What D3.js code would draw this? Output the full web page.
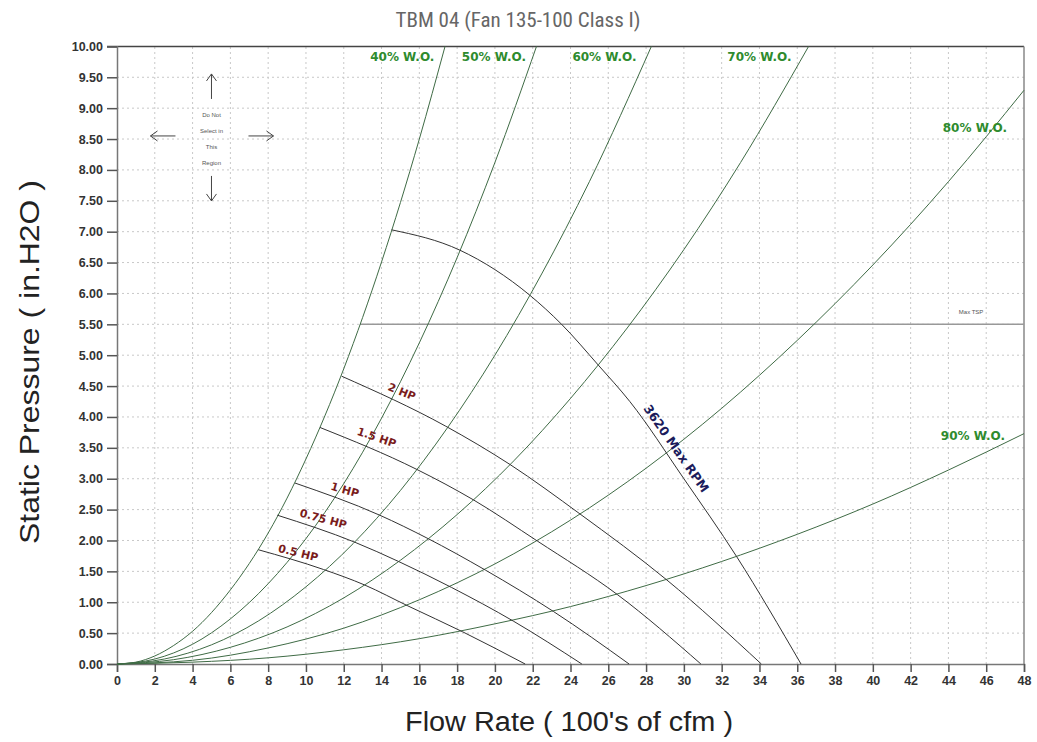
<!DOCTYPE html>
<html><head><meta charset="utf-8">
<script src="https://cdn.jsdelivr.net/npm/d3@7"></script>
<style>
html,body{margin:0;padding:0;background:#fff;}
svg{display:block;}
</style></head>
<body>
<svg id="chart" width="1037" height="742"></svg>
<script>
// ---------- data ----------
const xTicks = [0,2,4,6,8,10,12,14,16,18,20,22,24,26,28,30,32,34,36,38,40,42,44,46,48];
const yTicks = [0,0.5,1,1.5,2,2.5,3,3.5,4,4.5,5,5.5,6,6.5,7,7.5,8,8.5,9,9.5,10];

// system (W.O.) curves: [flow, pressure]
const wo40 = [[0,0],[1,0.03],[2,0.13],[3,0.30],[4,0.53],[6,1.20],[8,2.12],[10,3.32],[12,4.78],[14,6.51],[16,8.50],[17.36,10.0]];
const wo50 = [[0,0],[2,0.08],[4,0.32],[6,0.73],[8,1.30],[10,2.03],[12,2.92],[14,3.98],[16,5.20],[18,6.58],[20,8.12],[22.2,10.0]];
const wo60 = [[0,0],[2.5,0.08],[5,0.31],[7.5,0.70],[10,1.25],[12.5,1.95],[15,2.81],[17.5,3.83],[20,5.00],[22.5,6.33],[25,7.81],[28.28,10.0]];
const wo70 = [[0,0],[3,0.07],[6,0.27],[9,0.60],[12,1.07],[15,1.68],[18,2.42],[21,3.29],[24,4.30],[27,5.44],[30,6.71],[33,8.12],[36.6,10.0]];
const wo80 = [[0,0],[4,0.06],[8,0.26],[12,0.58],[16,1.04],[20,1.62],[24,2.33],[28,3.17],[32,4.14],[36,5.24],[40,6.46],[44,7.81],[48,9.29]];
const wo90 = [[0,0],[4,0.03],[8,0.10],[12,0.23],[16,0.41],[20,0.65],[24,0.93],[28,1.27],[32,1.66],[36,2.10],[40,2.59],[44,3.14],[48,3.73]];
const woNames = ["40% W.O.","50% W.O.","60% W.O.","70% W.O.","80% W.O.","90% W.O."];

// horsepower curves
const hp05  = [[7.48,1.85],[10.93,1.53],[13.1,1.28],[15.4,0.94],[18.3,0.52],[21.6,0]];
const hp075 = [[8.48,2.41],[12.6,1.97],[14.9,1.66],[17.7,1.24],[21.0,0.69],[24.6,0]];
const hp1   = [[9.42,2.93],[13.9,2.41],[16.4,2.04],[19.5,1.52],[23.1,0.85],[27.1,0]];
const hp15  = [[10.74,3.83],[15.87,3.15],[18.85,2.66],[22.25,1.99],[26.5,1.12],[30.9,0]];
const hp2   = [[11.89,4.66],[17.4,3.85],[20.8,3.23],[24.5,2.43],[29.1,1.36],[34.1,0]];
const hpNames = ["0.5 HP","0.75 HP","1 HP","1.5 HP","2 HP"];

// max rpm curve
const rpmMax = [[14.53,7.03],[18.15,6.70],[21.85,5.97],[23.53,5.50],[25.47,4.84],[27.14,4.25],[30.0,3.0],[32.79,1.74],[36.2,0]];
const rpmName = "3620 Max RPM";

// max total static pressure line
const maxTSP = [[12.86,5.5],[48,5.5]];
const tspName = "Max TSP";

const title = "TBM 04 (Fan 135-100 Class I)";
const xTitle = "Flow Rate ( 100's of cfm )";
const yTitle = "Static Pressure ( in.H2O )";
const noSelect = ["Do Not","Select in","This","Region"];

// ---------- chart ----------
const svg = d3.select("#chart");
const x = d3.scaleLinear().domain([0,48]).range([117,1024]);
const y = d3.scaleLinear().domain([0,10]).range([664,46.4]);

// title
svg.append("text").attr("x",518).attr("y",27).attr("text-anchor","middle")
  .style("font-family","'Liberation Sans Narrow','Roboto Condensed','Arial Narrow',Roboto,sans-serif")
  .style("font-size","21px").style("fill","#666").text(title);

// grid
const grid = svg.append("g");
grid.selectAll("line.vx").data(xTicks.slice(1,-1)).enter().append("line")
  .attr("x1",d=>x(d)).attr("x2",d=>x(d)).attr("y1",y(0)).attr("y2",y(10))
  .attr("stroke","#c8c8c8").attr("stroke-width",1).attr("stroke-dasharray","2,3");
grid.selectAll("line.hy").data(yTicks.slice(1,-1)).enter().append("line")
  .attr("y1",d=>y(d)).attr("y2",d=>y(d)).attr("x1",x(0)).attr("x2",x(48))
  .attr("stroke","#c8c8c8").attr("stroke-width",1).attr("stroke-dasharray","2,3");

// frame
svg.append("line").attr("x1",x(0)-10).attr("x2",x(48)).attr("y1",y(10)).attr("y2",y(10)).attr("stroke","#444").attr("stroke-width",1.5);
svg.append("line").attr("x1",x(48)).attr("x2",x(48)).attr("y1",y(0)).attr("y2",y(10)).attr("stroke","#888").attr("stroke-width",1.5);

// axes
const xAxis = d3.axisBottom(x).tickValues(xTicks).tickSize(8).tickPadding(4).tickFormat(d3.format("d"));
const gx = svg.append("g").attr("transform",`translate(0,${y(0)})`).call(xAxis);
const yAxis = d3.axisLeft(y).tickValues(yTicks).tickSize(10).tickPadding(4).tickFormat(d3.format(".2f"));
const gy = svg.append("g").attr("transform",`translate(${x(0)},0)`).call(yAxis);
[gx,gy].forEach(g=>{
  g.select(".domain").attr("stroke","#777").attr("stroke-width",1.5);
  g.selectAll(".tick line").attr("stroke","#555").attr("stroke-width",1.5);
  g.selectAll(".tick text").style("font-family","Arial,'Liberation Sans',sans-serif")
    .style("font-size","12.5px").style("font-weight","bold").style("fill","#333");
});

// axis titles
svg.append("text").attr("x",569).attr("y",731).attr("text-anchor","middle")
  .attr("textLength",328).attr("lengthAdjust","spacingAndGlyphs")
  .style("font-family","Arial,'Liberation Sans',sans-serif").style("font-size","27px").style("fill","#222").text(xTitle);
svg.append("text").attr("transform","translate(39,362) rotate(-90)").attr("text-anchor","middle")
  .attr("textLength",364).attr("lengthAdjust","spacingAndGlyphs")
  .style("font-family","Arial,'Liberation Sans',sans-serif").style("font-size","28px").style("fill","#222").text(yTitle);

const line = d3.line().x(d=>x(d[0])).y(d=>y(d[1])).curve(d3.curveMonotoneX);

// max TSP
svg.append("path").attr("d",line(maxTSP)).attr("fill","none").attr("stroke","#999").attr("stroke-width",1.6);
svg.append("text").attr("x",x(45.2)).attr("y",y(5.66)).attr("text-anchor","middle")
  .style("font-family","Arial,sans-serif").style("font-size","6px").style("fill","#555").text(tspName);

// W.O. curves
const woData = [wo40,wo50,wo60,wo70,wo80,wo90];
svg.selectAll("path.wo").data(woData).enter().append("path")
  .attr("d",d=>line(d)).attr("fill","none").attr("stroke","#3f6b45").attr("stroke-width",1);

// HP curves
const hpData = [hp05,hp075,hp1,hp15,hp2];
svg.selectAll("path.hp").data(hpData).enter().append("path")
  .attr("d",d=>line(d)).attr("fill","none").attr("stroke","#333").attr("stroke-width",1);
svg.append("path").attr("d",line(rpmMax)).attr("fill","none").attr("stroke","#333").attr("stroke-width",1);

// W.O. labels
const woLabelPos = [[15.1,9.76],[19.95,9.76],[25.8,9.76],[34.0,9.76],[45.4,8.61],[45.3,3.63]];
svg.selectAll("text.wo").data(woNames).enter().append("text")
  .attr("x",(d,i)=>x(woLabelPos[i][0])).attr("y",(d,i)=>y(woLabelPos[i][1]))
  .attr("text-anchor","middle")
  .style("font-family","Verdana,'DejaVu Sans',sans-serif").style("font-size","12px").style("font-weight","bold")
  .style("fill","#2e8b2e").text(d=>d);

// HP labels (centres)
const hpLabelPos = [[9.59,1.80],[10.92,2.35],[12.06,2.82],[13.74,3.67],[15.07,4.41]];
const hpAngles = [14,15,16,19,22];
svg.selectAll("text.hp").data(hpNames).enter().append("text")
  .attr("transform",(d,i)=>`translate(${x(hpLabelPos[i][0])},${y(hpLabelPos[i][1])}) rotate(${hpAngles[i]})`)
  .attr("text-anchor","middle").attr("dy","0.35em")
  .style("font-family","Verdana,'DejaVu Sans',sans-serif").style("font-size","11px").style("font-weight","bold")
  .style("fill","#7a1c1c").text(d=>d);

// RPM label
svg.append("text").attr("transform",`translate(${x(29.6)},${y(3.49)}) rotate(55)`).attr("text-anchor","middle").attr("dy","0.35em")
  .style("font-family","Verdana,'DejaVu Sans',sans-serif").style("font-size","12.5px").style("font-weight","bold")
  .style("fill","#1c1c5c").text(rpmName);

// Do Not Select region
const cx = x(5.0), cy = y(8.55);
const ar = svg.append("g").attr("stroke","#444").attr("stroke-width",1).attr("fill","none");
ar.append("path").attr("d",`M${cx},${cy-37} L${cx},${cy-62} M${cx-5},${cy-55} L${cx},${cy-62} L${cx+5},${cy-55}`);
ar.append("path").attr("d",`M${cx},${cy+40} L${cx},${cy+65} M${cx-5},${cy+58} L${cx},${cy+65} L${cx+5},${cy+58}`);
ar.append("path").attr("d",`M${cx-36},${cy} L${cx-61},${cy} M${cx-54},${cy-5} L${cx-61},${cy} L${cx-54},${cy+5}`);
ar.append("path").attr("d",`M${cx+37},${cy} L${cx+62},${cy} M${cx+55},${cy-5} L${cx+62},${cy} L${cx+55},${cy+5}`);
svg.selectAll("text.ns").data(noSelect).enter().append("text")
  .attr("x",cx).attr("y",(d,i)=>cy-19+i*16).attr("text-anchor","middle")
  .style("font-family","Arial,sans-serif").style("font-size","6px").style("fill","#555").text(d=>d);
</script>
</body></html>
